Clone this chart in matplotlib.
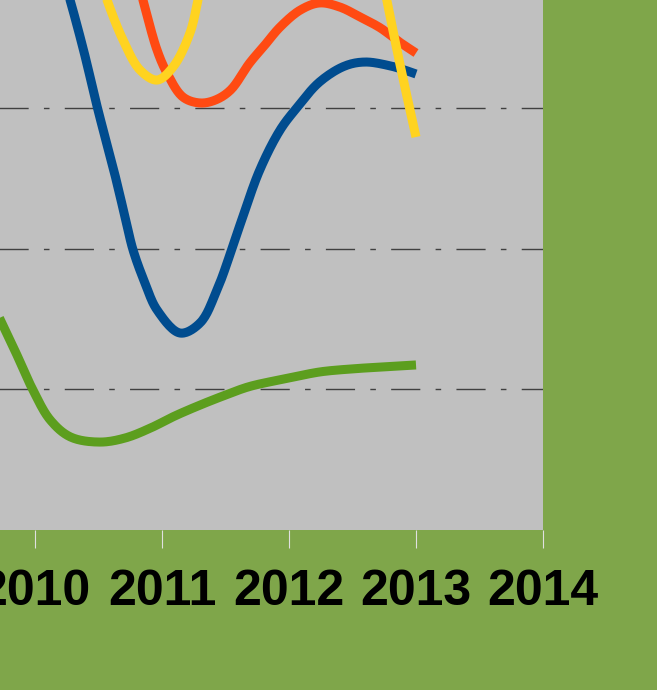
import numpy as np
import matplotlib
matplotlib.use("Agg")
import matplotlib.pyplot as plt

# values (x in years, y in gridline units)
green_x = [2009.72, 2009.84, 2009.98, 2010.12, 2010.28, 2010.51, 2010.71, 2010.91,
           2011.10, 2011.30, 2011.50, 2011.69, 2012.00, 2012.24, 2012.48, 2012.72, 2013.00]
green_y = [1.507, 1.279, 1.002, 0.782, 0.661, 0.625, 0.654, 0.725,
           0.810, 0.888, 0.959, 1.020, 1.080, 1.123, 1.144, 1.158, 1.173]

blue_x = [2010.205, 2010.276, 2010.386, 2010.496, 2010.614, 2010.709, 2010.772, 2010.866,
          2010.961, 2011.142, 2011.299, 2011.433, 2011.614, 2011.77, 2011.93,
          2012.06, 2012.24, 2012.44, 2012.60, 2012.80, 2012.91, 2013.00]
blue_y = [3.980, 3.767, 3.397, 2.985, 2.580, 2.225, 1.990, 1.755,
          1.564, 1.400, 1.471, 1.706, 2.168, 2.559, 2.843,
          2.999, 3.184, 3.298, 3.326, 3.298, 3.269, 3.241]

orange_x = [2010.787, 2010.850, 2010.961, 2011.039, 2011.165, 2011.299, 2011.42, 2011.54,
            2011.69, 2011.81, 2011.93, 2012.09, 2012.24, 2012.40, 2012.56, 2012.72, 2012.87, 2013.00]
orange_y = [3.980, 3.767, 3.411, 3.248, 3.077, 3.035, 3.056, 3.127,
            3.319, 3.447, 3.575, 3.696, 3.746, 3.717, 3.646, 3.568, 3.468, 3.390]

yellow_x = [2010.504, 2010.567, 2010.693, 2010.827, 2010.961, 2011.087, 2011.220, 2011.283,
            2011.331, 2012.00, 2012.72, 2012.77, 2012.87, 2013.00]
yellow_y = [3.945, 3.767, 3.483, 3.269, 3.198, 3.291, 3.532, 3.767,
            3.98, 5.5, 3.98, 3.767, 3.326, 2.793]

years = [2010, 2011, 2012, 2013, 2014]


def smooth(xs, ys, n=16, alpha=0.5):
    """Centripetal Catmull-Rom through the points (smoothed line look)"""
    sx, sy = 127.0, 140.7  # roughly square units on screen
    p = np.column_stack([np.asarray(xs) * sx, np.asarray(ys) * sy])
    p = np.vstack([2 * p[0] - p[1], p, 2 * p[-1] - p[-2]])
    out = []
    for i in range(1, len(p) - 2):
        P0, P1, P2, P3 = p[i - 1], p[i], p[i + 1], p[i + 2]
        t0 = 0.0
        t1 = t0 + np.linalg.norm(P1 - P0) ** alpha
        t2 = t1 + np.linalg.norm(P2 - P1) ** alpha
        t3 = t2 + np.linalg.norm(P3 - P2) ** alpha
        t = np.linspace(t1, t2, n, endpoint=False)[:, None]
        A1 = (t1 - t) / (t1 - t0) * P0 + (t - t0) / (t1 - t0) * P1
        A2 = (t2 - t) / (t2 - t1) * P1 + (t - t1) / (t2 - t1) * P2
        A3 = (t3 - t) / (t3 - t2) * P2 + (t - t2) / (t3 - t2) * P3
        B1 = (t2 - t) / (t2 - t0) * A1 + (t - t0) / (t2 - t0) * A2
        B2 = (t3 - t) / (t3 - t1) * A2 + (t - t1) / (t3 - t1) * A3
        out.append((t2 - t) / (t2 - t1) * B1 + (t - t1) / (t2 - t1) * B2)
    out.append(p[-2][None, :])
    out = np.vstack(out)
    return out[:, 0] / sx, out[:, 1] / sy


fig = plt.figure(figsize=(6.57, 6.90), dpi=100)
fig.patch.set_facecolor("#7FA64A")

# plot area is cropped on the left and top in the reference
ax = fig.add_axes([-92 / 657, 1 - 530 / 690, (543 + 92) / 657, 562.8 / 690])
ax.set_facecolor("#C0C0C0")
ax.set_xlim(2009, 2014)
ax.set_ylim(0, 4)

for g in [1, 2, 3]:
    ax.axhline(g, color="#404040", lw=1.0, linestyle=(0, (21, 11, 4, 11)), zorder=1)

lw = 6.5
series = [(green_x, green_y, "#5C9E1E"), (blue_x, blue_y, "#004C8F"),
          (orange_x, orange_y, "#FF4A12"), (yellow_x, yellow_y, "#FFD320")]
for i, (xs, ys, c) in enumerate(series):
    sx, sy = smooth(xs, ys)
    ax.plot(sx, sy, color=c, lw=lw, solid_capstyle="butt", solid_joinstyle="round", zorder=3 + i)

for s in ax.spines.values():
    s.set_visible(False)

ax.set_xticks(years)
ax.set_xticklabels([str(y) for y in years], fontfamily="Liberation Sans",
                   fontweight="bold", fontsize=36)
ax.tick_params(axis="x", direction="out", length=13, width=0.8, color="#E0E0E0", pad=15)
ax.set_yticks([])

fig.savefig("out.png", dpi=100, facecolor=fig.get_facecolor())
